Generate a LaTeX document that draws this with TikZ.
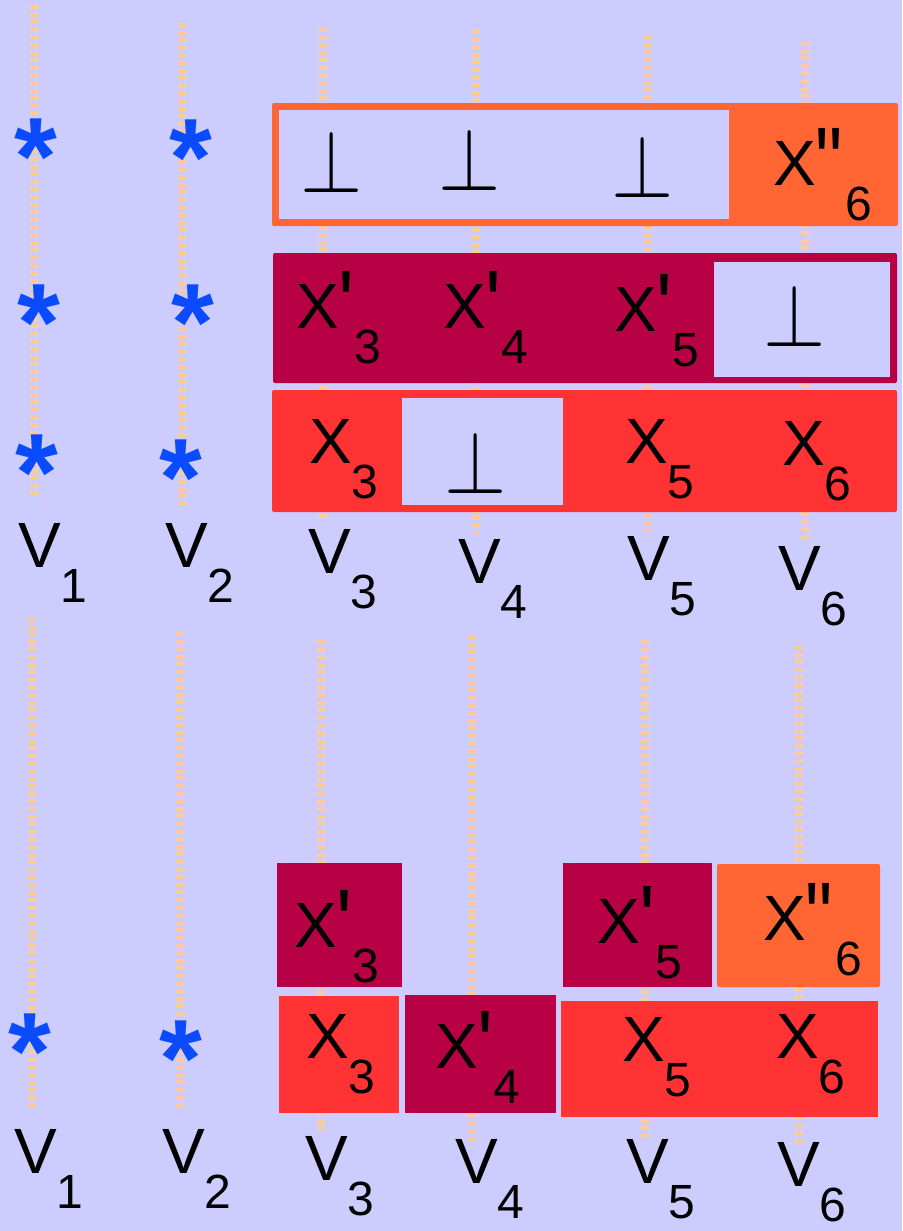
\documentclass[tikz,border=0pt]{standalone}
\usepackage{fix-cm}
\usepackage{graphicx}
\usepackage{fontspec}
\setmainfont{Liberation Sans}
\newfontfamily\prfont{Liberation Sans}[Ligatures=TeXOff]

\definecolor{bgc}{HTML}{CCCCFF}
\definecolor{dotc}{HTML}{FFCC99}
\definecolor{orng}{HTML}{FF6633}
\definecolor{crim}{HTML}{B80045}
\definecolor{redb}{HTML}{FF3333}
\definecolor{astc}{HTML}{0A4BFF}

\newcommand{\biglab}{\fontsize{64}{64}\selectfont}
\newcommand{\astf}{\fontsize{110}{110}\selectfont\bfseries}
\newcommand{\botf}{\fontsize{80}{80}\selectfont}
\newcommand{\subd}[1]{\raisebox{-35pt}{\fontsize{48}{48}\selectfont #1}}
\newcommand{\pr}{\raisebox{-9pt}{\scalebox{1.3}[1.5]{\prfont\symbol{39}}}}
\newcommand{\ppr}{\raisebox{-9pt}{\scalebox{1.2}[1.5]{\prfont\symbol{34}}}\kern2pt}
\newcommand{\bt}{\scalebox{1}[1.12]{$\bot$}}
\newcommand{\asx}{\raisebox{0pt}[\height][0pt]{*}}

\begin{document}
\begin{tikzpicture}[x=1pt, y=-1pt,
    dotline/.style={draw=dotc, line width=8pt, dash pattern=on 4pt off 3.6pt},
    lab/.style={anchor=base west, inner sep=0pt, font=\biglab},
    ast/.style={anchor=base, inner sep=0pt, text=astc, font=\astf},
    botm/.style={anchor=base, inner sep=0pt, font=\botf}]
    % 背景
    \fill[bgc] (0,0) rectangle (902,1231);
    \useasboundingbox (0,0) rectangle (902,1231);

    % 虚线 (上下两组)
    \foreach \x/\ya/\yb in {34/5/500, 182/23/505, 323/28/522, 476/30/532, 648/35/532, 805/41/540,
                            32/617/1107, 180/632/1108, 321/640/1130, 472/635/1141, 645/640/1137, 799/645/1145}
        \draw[dotline] (\x,\ya) -- (\x,\yb);

    % 上半部分: 三行
    \fill[orng, rounded corners=2pt] (272,103) rectangle (898,226);
    \fill[bgc] (279,110) rectangle (729,219);
    \fill[crim, rounded corners=2pt] (273,253) rectangle (897,383);
    \fill[bgc] (714,262) rectangle (890,377);
    \fill[redb, rounded corners=2pt] (272,390) rectangle (897,512);
    \fill[bgc] (402,398) rectangle (563,505);

    \node[botm] (ba3) at (332,192) {\bt};
    \node[botm] (ba4) at (470,190) {\bt};
    \node[botm] (ba5) at (643,197) {\bt};
    \node[lab] (xa6) at (773,185) {X\ppr\subd{6}};

    \node[lab] (xb3) at (296,328) {X\pr\subd{3}};
    \node[lab] (xb4) at (443,328) {X\pr\subd{4}};
    \node[lab] (xb5) at (614,331) {X\pr\subd{5}};
    \node[botm] (bb6) at (795,346) {\bt};

    \node[lab] (xc3) at (309,463) {X\subd{3}};
    \node[botm] (bc4) at (476,493) {\bt};
    \node[lab] (xc5) at (625,463) {X\subd{5}};
    \node[lab] (xc6) at (782,465) {X\subd{6}};

    % 星号
    \node[ast] (sa1) at (36,194) {\asx};
    \node[ast] (sa2) at (191,195) {\asx};
    \node[ast] (sb1) at (39,360) {\asx};
    \node[ast] (sb2) at (193,360) {\asx};
    \node[ast] (sc1) at (37,510) {\asx};
    \node[ast] (sc2) at (181,515) {\asx};

    % 上半部分标签
    \node[lab] (va1) at (18,567) {V\subd{1}};
    \node[lab] (va2) at (165,567) {V\subd{2}};
    \node[lab] (va3) at (308,573) {V\subd{3}};
    \node[lab] (va4) at (458,583) {V\subd{4}};
    \node[lab] (va5) at (627,580) {V\subd{5}};
    \node[lab] (va6) at (778,590) {V\subd{6}};

    % 下半部分: 方块
    \fill[crim] (277,863) rectangle (402,987);
    \fill[crim] (563,863) rectangle (712,987);
    \fill[orng, rounded corners=2pt] (717,864) rectangle (880,987);
    \fill[redb] (279,996) rectangle (399,1113);
    \fill[crim] (405,995) rectangle (556,1113);
    \fill[redb] (561,1001) rectangle (878,1117);

    \node[lab] (xd3) at (294,947) {X\pr\subd{3}};
    \node[lab] (xd5) at (597,943) {X\pr\subd{5}};
    \node[lab] (xd6) at (763,940) {X\ppr\subd{6}};
    \node[lab] (xe3) at (306,1058) {X\subd{3}};
    \node[lab] (xe4) at (435,1068) {X\pr\subd{4}};
    \node[lab] (xe5) at (622,1061) {X\subd{5}};
    \node[lab] (xe6) at (776,1058) {X\subd{6}};

    \node[ast] (sd1) at (30,1089) {\asx};
    \node[ast] (sd2) at (181,1096) {\asx};

    % 下半部分标签
    \node[lab] (vb1) at (14,1173) {V\subd{1}};
    \node[lab] (vb2) at (162,1173) {V\subd{2}};
    \node[lab] (vb3) at (305,1180) {V\subd{3}};
    \node[lab] (vb4) at (455,1183) {V\subd{4}};
    \node[lab] (vb5) at (626,1183) {V\subd{5}};
    \node[lab] (vb6) at (777,1186) {V\subd{6}};
\end{tikzpicture}
\end{document}
